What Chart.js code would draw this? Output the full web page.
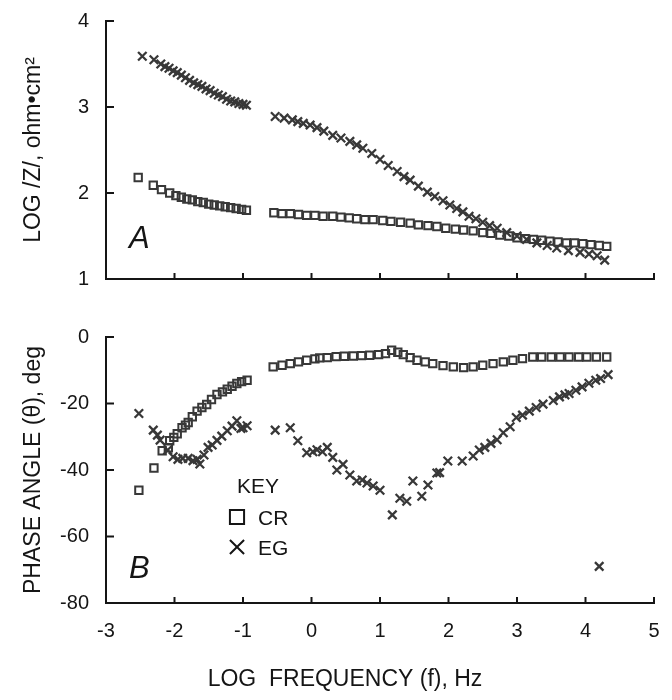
<!DOCTYPE html>
<html>
<head>
<meta charset="utf-8">
<script src="https://cdn.jsdelivr.net/npm/chart.js"></script>
<style>
  html, body { margin: 0; padding: 0; background: #fff; }
  #wrap { position: relative; width: 672px; height: 700px; }
  #boxA { position: absolute; left: 0; top: 0; width: 672px; height: 300px; }
  #boxB { position: absolute; left: 0; top: 300px; width: 672px; height: 400px; }
</style>
</head>
<body>
<div id="wrap">
  <div id="boxA"><canvas id="chartA" width="672" height="300"></canvas></div>
  <div id="boxB"><canvas id="chartB" width="672" height="400"></canvas></div>
</div>
<script>
// Panel A: LOG |Z| vs LOG f   ([logf, value])
const zCR = [
  [-2.53, 2.18], [-2.31, 2.09], [-2.19, 2.04], [-2.07, 2.00], [-1.98, 1.97], [-1.90, 1.95],
  [-1.82, 1.93], [-1.74, 1.92], [-1.66, 1.90], [-1.58, 1.89], [-1.50, 1.87], [-1.42, 1.86],
  [-1.34, 1.85], [-1.26, 1.84], [-1.18, 1.83], [-1.10, 1.82], [-1.02, 1.81], [-0.95, 1.80],
  [-0.55, 1.77], [-0.43, 1.76], [-0.31, 1.76], [-0.19, 1.75], [-0.07, 1.74], [0.05, 1.74],
  [0.17, 1.73], [0.31, 1.73], [0.43, 1.72], [0.55, 1.71], [0.66, 1.70], [0.78, 1.69],
  [0.90, 1.69], [1.04, 1.68], [1.16, 1.67], [1.30, 1.66], [1.44, 1.65], [1.56, 1.63],
  [1.70, 1.62], [1.83, 1.61], [1.96, 1.59], [2.10, 1.58], [2.22, 1.57], [2.36, 1.56],
  [2.50, 1.54], [2.62, 1.53], [2.75, 1.51], [2.88, 1.50], [3.00, 1.48], [3.12, 1.47],
  [3.24, 1.46], [3.36, 1.45], [3.48, 1.44], [3.60, 1.43], [3.72, 1.42], [3.84, 1.42],
  [3.96, 1.41], [4.08, 1.40], [4.20, 1.39], [4.31, 1.38]
];
const zEG = [
  [-2.47, 3.59], [-2.30, 3.55], [-2.20, 3.50], [-2.14, 3.47], [-2.08, 3.45], [-2.02, 3.42],
  [-1.96, 3.40], [-1.90, 3.37], [-1.84, 3.34], [-1.78, 3.31], [-1.72, 3.28], [-1.66, 3.26],
  [-1.60, 3.24], [-1.54, 3.21], [-1.48, 3.19], [-1.42, 3.16], [-1.36, 3.14], [-1.30, 3.12],
  [-1.24, 3.09], [-1.18, 3.07], [-1.12, 3.06], [-1.06, 3.04], [-1.00, 3.03], [-0.95, 3.02],
  [-0.53, 2.89], [-0.40, 2.87], [-0.28, 2.85], [-0.20, 2.83], [-0.12, 2.81], [-0.02, 2.79],
  [0.08, 2.76], [0.18, 2.72], [0.31, 2.67], [0.43, 2.64], [0.56, 2.60], [0.66, 2.56],
  [0.75, 2.52], [0.88, 2.46], [1.00, 2.39], [1.12, 2.32], [1.25, 2.25], [1.35, 2.19],
  [1.44, 2.15], [1.56, 2.08], [1.69, 2.01], [1.80, 1.96], [1.92, 1.91], [2.02, 1.86],
  [2.12, 1.82], [2.21, 1.78], [2.30, 1.73], [2.40, 1.70], [2.50, 1.66], [2.60, 1.62],
  [2.71, 1.59], [2.85, 1.54], [3.00, 1.50], [3.14, 1.46], [3.29, 1.42], [3.44, 1.39],
  [3.58, 1.36], [3.75, 1.33], [3.92, 1.31], [4.05, 1.29], [4.17, 1.27], [4.28, 1.22]
];

// Panel B: phase angle (deg) vs LOG f
const phCR = [
  [-2.52, -46.1], [-2.30, -39.4], [-2.18, -34.2], [-2.09, -33.3], [-2.07, -31.2], [-2.01, -30.2],
  [-1.96, -29.1], [-1.89, -27.3], [-1.84, -26.5], [-1.80, -25.7], [-1.74, -24.0], [-1.67, -22.3],
  [-1.60, -21.2], [-1.53, -20.3], [-1.46, -18.8], [-1.38, -17.3], [-1.30, -16.5], [-1.23, -15.7],
  [-1.16, -14.8], [-1.09, -14.0], [-1.02, -13.4], [-0.94, -13.0],
  [-0.56, -9.0], [-0.43, -8.5], [-0.31, -8.0], [-0.19, -7.5], [-0.07, -7.0], [0.05, -6.6],
  [0.12, -6.3], [0.23, -6.2], [0.36, -5.9], [0.48, -5.8], [0.61, -5.7], [0.73, -5.6],
  [0.85, -5.5], [0.98, -5.3], [1.08, -5.0], [1.17, -4.0], [1.26, -4.6], [1.34, -5.3],
  [1.44, -6.2], [1.54, -7.0], [1.66, -7.5], [1.77, -8.0], [1.92, -8.6], [2.07, -9.0],
  [2.22, -9.2], [2.36, -9.0], [2.50, -8.5], [2.65, -8.0], [2.80, -7.5], [2.94, -7.0],
  [3.08, -6.5], [3.23, -6.0], [3.36, -6.0], [3.50, -6.0], [3.63, -6.0], [3.76, -6.0],
  [3.90, -6.0], [4.02, -6.0], [4.16, -6.0], [4.31, -6.0]
];
const phEG = [
  [-2.52, -23.0], [-2.31, -28.0], [-2.25, -29.5], [-2.21, -31.0], [-2.10, -34.0], [-2.02, -36.0],
  [-1.95, -36.8], [-1.88, -36.5], [-1.80, -36.5], [-1.73, -37.2], [-1.67, -36.8], [-1.63, -38.2],
  [-1.57, -35.5], [-1.51, -33.2], [-1.45, -32.5], [-1.38, -31.1], [-1.31, -29.8], [-1.23, -28.2],
  [-1.16, -26.8], [-1.09, -25.2], [-1.03, -27.5], [-1.00, -27.3], [-0.94, -26.7],
  [-0.53, -28.0], [-0.31, -27.3], [-0.20, -31.2], [-0.07, -34.8], [0.02, -34.5], [0.08, -33.9],
  [0.16, -34.5], [0.23, -33.2], [0.31, -36.2], [0.37, -40.0], [0.46, -38.3], [0.56, -41.5],
  [0.66, -43.3], [0.74, -43.0], [0.81, -43.9], [0.90, -44.8], [1.00, -46.1], [1.18, -53.5],
  [1.29, -48.5], [1.39, -49.4], [1.48, -43.3], [1.61, -47.9], [1.70, -44.5], [1.83, -40.9],
  [1.87, -40.8], [1.99, -37.3], [2.20, -37.3], [2.36, -35.8], [2.45, -34.0], [2.53, -33.2],
  [2.62, -32.0], [2.71, -30.9], [2.80, -28.8], [2.90, -27.0], [2.99, -24.2], [3.08, -23.5],
  [3.18, -22.3], [3.28, -21.2], [3.38, -20.2], [3.53, -19.1], [3.62, -18.0], [3.70, -17.4],
  [3.76, -17.0], [3.86, -16.0], [3.95, -15.0], [4.05, -13.9], [4.15, -13.0], [4.22, -12.5],
  [4.33, -11.3], [4.20, -69.0]
];

const xTicks = [-3, -2, -1, 0, 1, 2, 3, 4, 5];
const yTicksA = [1, 2, 3, 4];
const yTicksB = [-80, -60, -40, -20, 0];

const FONT = '"Liberation Sans", Arial, Helvetica, sans-serif';
const INK = '#151515';
const MARK = '#383838';

const toXY = (arr) => arr.map(([x, y]) => ({ x, y }));

function crSet(arr) {
  return {
    label: 'CR', data: toXY(arr), pointStyle: 'rect', pointRadius: 5.2,
    borderColor: MARK, backgroundColor: 'rgba(0,0,0,0)', borderWidth: 2
  };
}
function egSet(arr) {
  return {
    label: 'EG', data: toXY(arr), pointStyle: 'crossRot', pointRadius: 6,
    borderColor: MARK, backgroundColor: MARK, borderWidth: 2.3
  };
}

// inward tick marks + free text (panel letter, key, x title)
const figureBits = {
  id: 'figureBits',
  afterDraw(chart, args, opts) {
    const { ctx, chartArea: a, scales: { x, y } } = chart;
    ctx.save();
    ctx.strokeStyle = INK;
    ctx.lineWidth = 2;
    x.ticks.forEach((t) => {
      const px = x.getPixelForValue(t.value);
      ctx.beginPath(); ctx.moveTo(px, a.bottom); ctx.lineTo(px, a.bottom - 6); ctx.stroke();
    });
    y.ticks.forEach((t) => {
      const py = y.getPixelForValue(t.value);
      ctx.beginPath(); ctx.moveTo(a.left, py); ctx.lineTo(a.left + 8, py); ctx.stroke();
    });

    ctx.fillStyle = INK;
    ctx.textBaseline = 'alphabetic';
    ctx.textAlign = 'left';
    ctx.font = 'italic 31px ' + FONT;
    ctx.fillText(opts.letter, a.left + 23, a.bottom - opts.letterUp);

    if (opts.key) {
      ctx.font = '21px ' + FONT;
      ctx.fillText('KEY', a.left + 131, a.bottom - 110);
      const ds = chart.data.datasets;
      [0, 1].forEach((i) => {
        const cy = a.bottom - 86 + i * 30;
        ctx.fillStyle = '#fff';
        ctx.strokeStyle = INK;
        Chart.helpers.drawPoint(ctx, {
          pointStyle: ds[i].pointStyle, radius: 10, borderWidth: 1.6
        }, a.left + 131, cy);
        ctx.fillStyle = INK;
        ctx.fillText(ds[i].label, a.left + 152, cy + 8);
      });
      ctx.font = '23px ' + FONT;
      ctx.textAlign = 'center';
      ctx.fillText('LOG  FREQUENCY (f), Hz', 345, chart.height - 14);
    }
    ctx.restore();
  }
};

function baseOptions(yMin, yMax, step, yTitle, showX) {
  return {
    responsive: false,
    animation: false,
    events: [],
    layout: { padding: { left: 0, right: 18, top: showX ? 37 : 16, bottom: 0 } },
    plugins: { legend: { display: false }, tooltip: { enabled: false } },
    scales: {
      x: {
        type: 'linear', min: xTicks[0], max: xTicks[xTicks.length - 1],
        afterBuildTicks: (s) => { s.ticks = xTicks.map((v) => ({ value: v })); },
        grid: { display: false },
        border: { display: true, color: INK, width: 2 },
        ticks: { display: showX, color: INK, font: { family: FONT, size: 20 }, padding: 8 },
        afterFit: (s) => { s.height = showX ? 97 : 18; }
      },
      y: {
        type: 'linear', min: yMin, max: yMax,
        ticks: { stepSize: step, color: INK, font: { family: FONT, size: 20 }, padding: 9 },
        grid: { display: false },
        border: { display: true, color: INK, width: 2 },
        title: { display: true, text: yTitle, color: INK, font: { family: FONT, size: 23 }, padding: { top: 20, bottom: 0 } },
        afterFit: (s) => { s.width = 106; }
      }
    }
  };
}

const optA = baseOptions(yTicksA[0], yTicksA[yTicksA.length - 1], 1, 'LOG /Z/, ohm\u2022cm\u00B2', false);
optA.plugins.figureBits = { letter: 'A', letterUp: 31, key: false };
new Chart(document.getElementById('chartA'), {
  type: 'scatter',
  data: { datasets: [crSet(zCR), egSet(zEG)] },
  options: optA,
  plugins: [figureBits]
});

const optB = baseOptions(yTicksB[0], yTicksB[yTicksB.length - 1], 20, 'PHASE ANGLE (\u03B8), deg', true);
optB.plugins.figureBits = { letter: 'B', letterUp: 25, key: true };
new Chart(document.getElementById('chartB'), {
  type: 'scatter',
  data: { datasets: [crSet(phCR), egSet(phEG)] },
  options: optB,
  plugins: [figureBits]
});
</script>
</body>
</html>
